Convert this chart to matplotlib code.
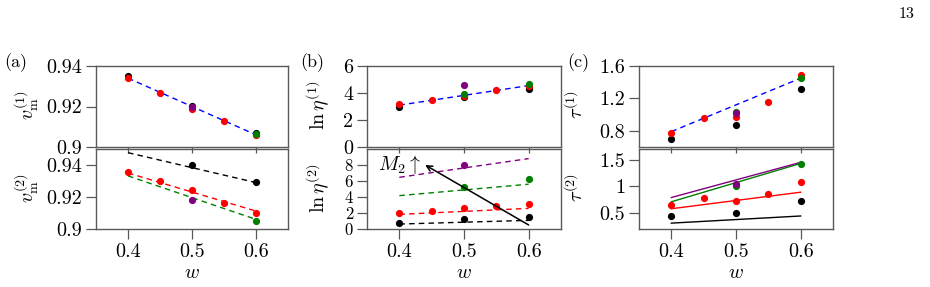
import matplotlib
matplotlib.use("Agg")
import matplotlib.pyplot as plt

plt.rcParams['mathtext.fontset'] = 'cm'
plt.rcParams['font.family'] = 'serif'
plt.rcParams['font.serif'] = ['cmr10', 'DejaVu Serif']
plt.rcParams['axes.formatter.use_mathtext'] = True

# ---------------- data ----------------
w5 = [0.4, 0.45, 0.5, 0.55, 0.6]
w3 = [0.4, 0.5, 0.6]
w_mid = [0.5]
w_end = [0.6]
w_pair = [0.5, 0.6]
w_fit = [0.4, 0.6]

# (a) top: v_m^(1)
va1_black = [0.935, 0.9202, 0.9071]
va1_red = [0.934, 0.9268, 0.9188, 0.9127, 0.9058]
va1_purple = [0.9196]
va1_green = [0.9063]
va1_fit = [0.934, 0.906]

# (a) bottom: v_m^(2)
va2_black = [0.9402, 0.9294]
va2_black_fit = [0.9477, 0.929]
va2_red = [0.9356, 0.930, 0.9242, 0.916, 0.910]
va2_red_fit = [0.935, 0.9112]
va2_purple = [0.918]
va2_green = [0.9052]
va2_green_fit = [0.9332, 0.906]

# (b) top: ln eta^(1)
lb1_black = [2.94, 3.73, 4.32]
lb1_red = [3.16, 3.48, 3.78, 4.22, 4.5]
lb1_green = [3.9, 4.64]
lb1_purple = [4.62]
lb1_fit = [3.1, 4.55]

# (b) bottom: ln eta^(2)
lb2_black = [0.75, 1.25, 1.5]
lb2_black_fit = [0.62, 1.08]
lb2_red = [2.0, 2.25, 2.67, 2.83, 3.08]
lb2_red_fit = [1.83, 2.58]
lb2_green = [5.3, 6.2]
lb2_green_fit = [4.17, 5.6]
lb2_purple = [8.0]
lb2_purple_fit = [6.46, 8.8]

# (c) top: tau^(1)
tc1_black = [0.70, 0.875, 1.32]
tc1_red = [0.77, 0.96, 0.975, 1.16, 1.49]
tc1_green = [1.03, 1.45]
tc1_purple = [1.016]
tc1_fit = [0.79, 1.45]

# (c) bottom: tau^(2)
tc2_black = [0.444, 0.50, 0.73]
tc2_black_fit = [0.31, 0.444]
tc2_red = [0.65, 0.776, 0.725, 0.857, 1.08]
tc2_red_fit = [0.58, 0.89]
tc2_green = [1.007, 1.42]
tc2_green_fit = [0.71, 1.43]
tc2_purple = [1.04]
tc2_purple_fit = [0.79, 1.45]

xticks = [0.4, 0.5, 0.6]
xticklabels = ["0.4", "0.5", "0.6"]
a_top_ticks = [0.9, 0.92, 0.94]; a_top_labels = ["0.9", "0.92", "0.94"]
a_bot_ticks = [0.9, 0.92, 0.94]; a_bot_labels = ["0.9", "0.92", "0.94"]
b_top_ticks = [0, 2, 4, 6]; b_top_labels = ["0", "2", "4", "6"]
b_bot_ticks = [0, 2, 4, 6, 8]; b_bot_labels = ["0", "2", "4", "6", "8"]
c_top_ticks = [0.8, 1.2, 1.6]; c_top_labels = ["0.8", "1.2", "1.6"]
c_bot_ticks = [0.5, 1.0, 1.5]; c_bot_labels = ["0.5", "1", "1.5"]

ylabels_top = [r"$v_\mathrm{m}^{(1)}$", r"$\ln\eta^{(1)}$", r"$\tau^{(1)}$"]
ylabels_bot = [r"$v_\mathrm{m}^{(2)}$", r"$\ln\eta^{(2)}$", r"$\tau^{(2)}$"]
panel_labels = ["(a)", "(b)", "(c)"]

# ---------------- figure ----------------
W, H = 930, 287
fig = plt.figure(figsize=(W / 100, H / 100), dpi=100)

FS = 14.5
SP = '0.35'
MS = 5.2


def px_rect(x0, x1, ytop, ybot):
    return [x0 / W, 1 - ybot / H, (x1 - x0) / W, (ybot - ytop) / H]


lefts = [(96, 288), (367, 561), (639, 833)]
axes_top, axes_bot = [], []
for (x0, x1) in lefts:
    at = fig.add_axes(px_rect(x0, x1, 66, 147))
    ab = fig.add_axes(px_rect(x0, x1, 149, 229))
    for ax in (at, ab):
        ax.set_facecolor('none')
        for s in ax.spines.values():
            s.set_color(SP)
            s.set_linewidth(1.0)
        ax.set_xlim(0.35, 0.65)
        ax.set_xticks(xticks)
        ax.tick_params(direction='out', length=7, width=0.9, color=SP,
                       labelsize=FS, pad=3)
    at.tick_params(axis='x', length=4.5, labelbottom=False)
    ab.set_xticklabels(xticklabels)
    ab.set_xlabel(r"$w$", fontsize=FS, labelpad=2)
    axes_top.append(at)
    axes_bot.append(ab)

dash = (0, (4, 3))


def pts(ax, x, y, c):
    ax.plot(x, y, 'o', color=c, ms=MS, mew=0, zorder=3)


# (a)
ax = axes_top[0]
ax.plot(w_fit, va1_fit, color='blue', lw=1, ls=dash)
pts(ax, w3, va1_black, 'black'); pts(ax, w5, va1_red, 'red')
pts(ax, w_end, va1_green, 'green'); pts(ax, w_mid, va1_purple, 'purple')
ax.set_ylim(0.9, 0.94)
ax.set_yticks(a_top_ticks); ax.set_yticklabels(a_top_labels)

ax = axes_bot[0]
ax.plot(w_fit, va2_black_fit, color='black', lw=1, ls=dash)
ax.plot(w_fit, va2_red_fit, color='red', lw=1, ls=dash)
ax.plot(w_fit, va2_green_fit, color='green', lw=1, ls=dash)
pts(ax, w_pair, va2_black, 'black'); pts(ax, w5, va2_red, 'red')
pts(ax, w_end, va2_green, 'green'); pts(ax, w_mid, va2_purple, 'purple')
ax.set_ylim(0.9, 0.95)
ax.set_yticks(a_bot_ticks); ax.set_yticklabels(a_bot_labels)

# (b)
ax = axes_top[1]
ax.plot(w_fit, lb1_fit, color='blue', lw=1, ls=dash)
pts(ax, w3, lb1_black, 'black'); pts(ax, w5, lb1_red, 'red')
pts(ax, w_pair, lb1_green, 'green'); pts(ax, w_mid, lb1_purple, 'purple')
ax.set_ylim(0, 6)
ax.set_yticks(b_top_ticks); ax.set_yticklabels(b_top_labels)

ax = axes_bot[1]
ax.plot(w_fit, lb2_black_fit, color='black', lw=1, ls=dash)
ax.plot(w_fit, lb2_red_fit, color='red', lw=1, ls=dash)
ax.plot(w_fit, lb2_green_fit, color='green', lw=1, ls=dash)
ax.plot(w_fit, lb2_purple_fit, color='purple', lw=1, ls=dash)
pts(ax, w3, lb2_black, 'black'); pts(ax, w5, lb2_red, 'red')
pts(ax, w_pair, lb2_green, 'green'); pts(ax, w_mid, lb2_purple, 'purple')
ax.annotate("", xy=(0.44, 8.0), xytext=(0.6, 0.5),
            arrowprops=dict(arrowstyle='->', color='black', lw=1.1,
                            shrinkA=0, shrinkB=0, mutation_scale=10), zorder=4)
ax.text(0.367, 8.0, r"$M_2\uparrow$", fontsize=FS, ha='left', va='center')
ax.set_ylim(0, 10)
ax.set_yticks(b_bot_ticks); ax.set_yticklabels(b_bot_labels)
ax.tick_params(axis='y', labelsize=12, pad=3)

# (c)
ax = axes_top[2]
ax.plot(w_fit, tc1_fit, color='blue', lw=1, ls=dash)
pts(ax, w3, tc1_black, 'black'); pts(ax, w5, tc1_red, 'red')
pts(ax, w_pair, tc1_green, 'green'); pts(ax, w_mid, tc1_purple, 'purple')
ax.set_ylim(0.6, 1.6)
ax.set_yticks(c_top_ticks); ax.set_yticklabels(c_top_labels)

ax = axes_bot[2]
ax.plot(w_fit, tc2_black_fit, color='black', lw=1)
ax.plot(w_fit, tc2_red_fit, color='red', lw=1)
ax.plot(w_fit, tc2_green_fit, color='green', lw=1)
ax.plot(w_fit, tc2_purple_fit, color='purple', lw=1)
pts(ax, w3, tc2_black, 'black'); pts(ax, w5, tc2_red, 'red')
pts(ax, w_pair, tc2_green, 'green'); pts(ax, w_mid, tc2_purple, 'purple')
ax.set_ylim(0.2, 1.7)
ax.set_yticks(c_bot_ticks); ax.set_yticklabels(c_bot_labels)

# y labels and panel labels
ylab_x = [27, 318, 576]
panel_x = [16, 312, 578]
for i in range(3):
    fig.text(ylab_x[i] / W, 1 - 105 / H, ylabels_top[i], rotation=90,
             ha='center', va='center', fontsize=FS)
    fig.text(ylab_x[i] / W, 1 - 188 / H, ylabels_bot[i], rotation=90,
             ha='center', va='center', fontsize=FS)
    fig.text(panel_x[i] / W, 1 - 63 / H, panel_labels[i],
             ha='center', va='center', fontsize=13)

fig.text(907 / W, 1 - 14 / H, "13", ha='center', va='center', fontsize=11.5)

fig.savefig("out.png", dpi=100)
